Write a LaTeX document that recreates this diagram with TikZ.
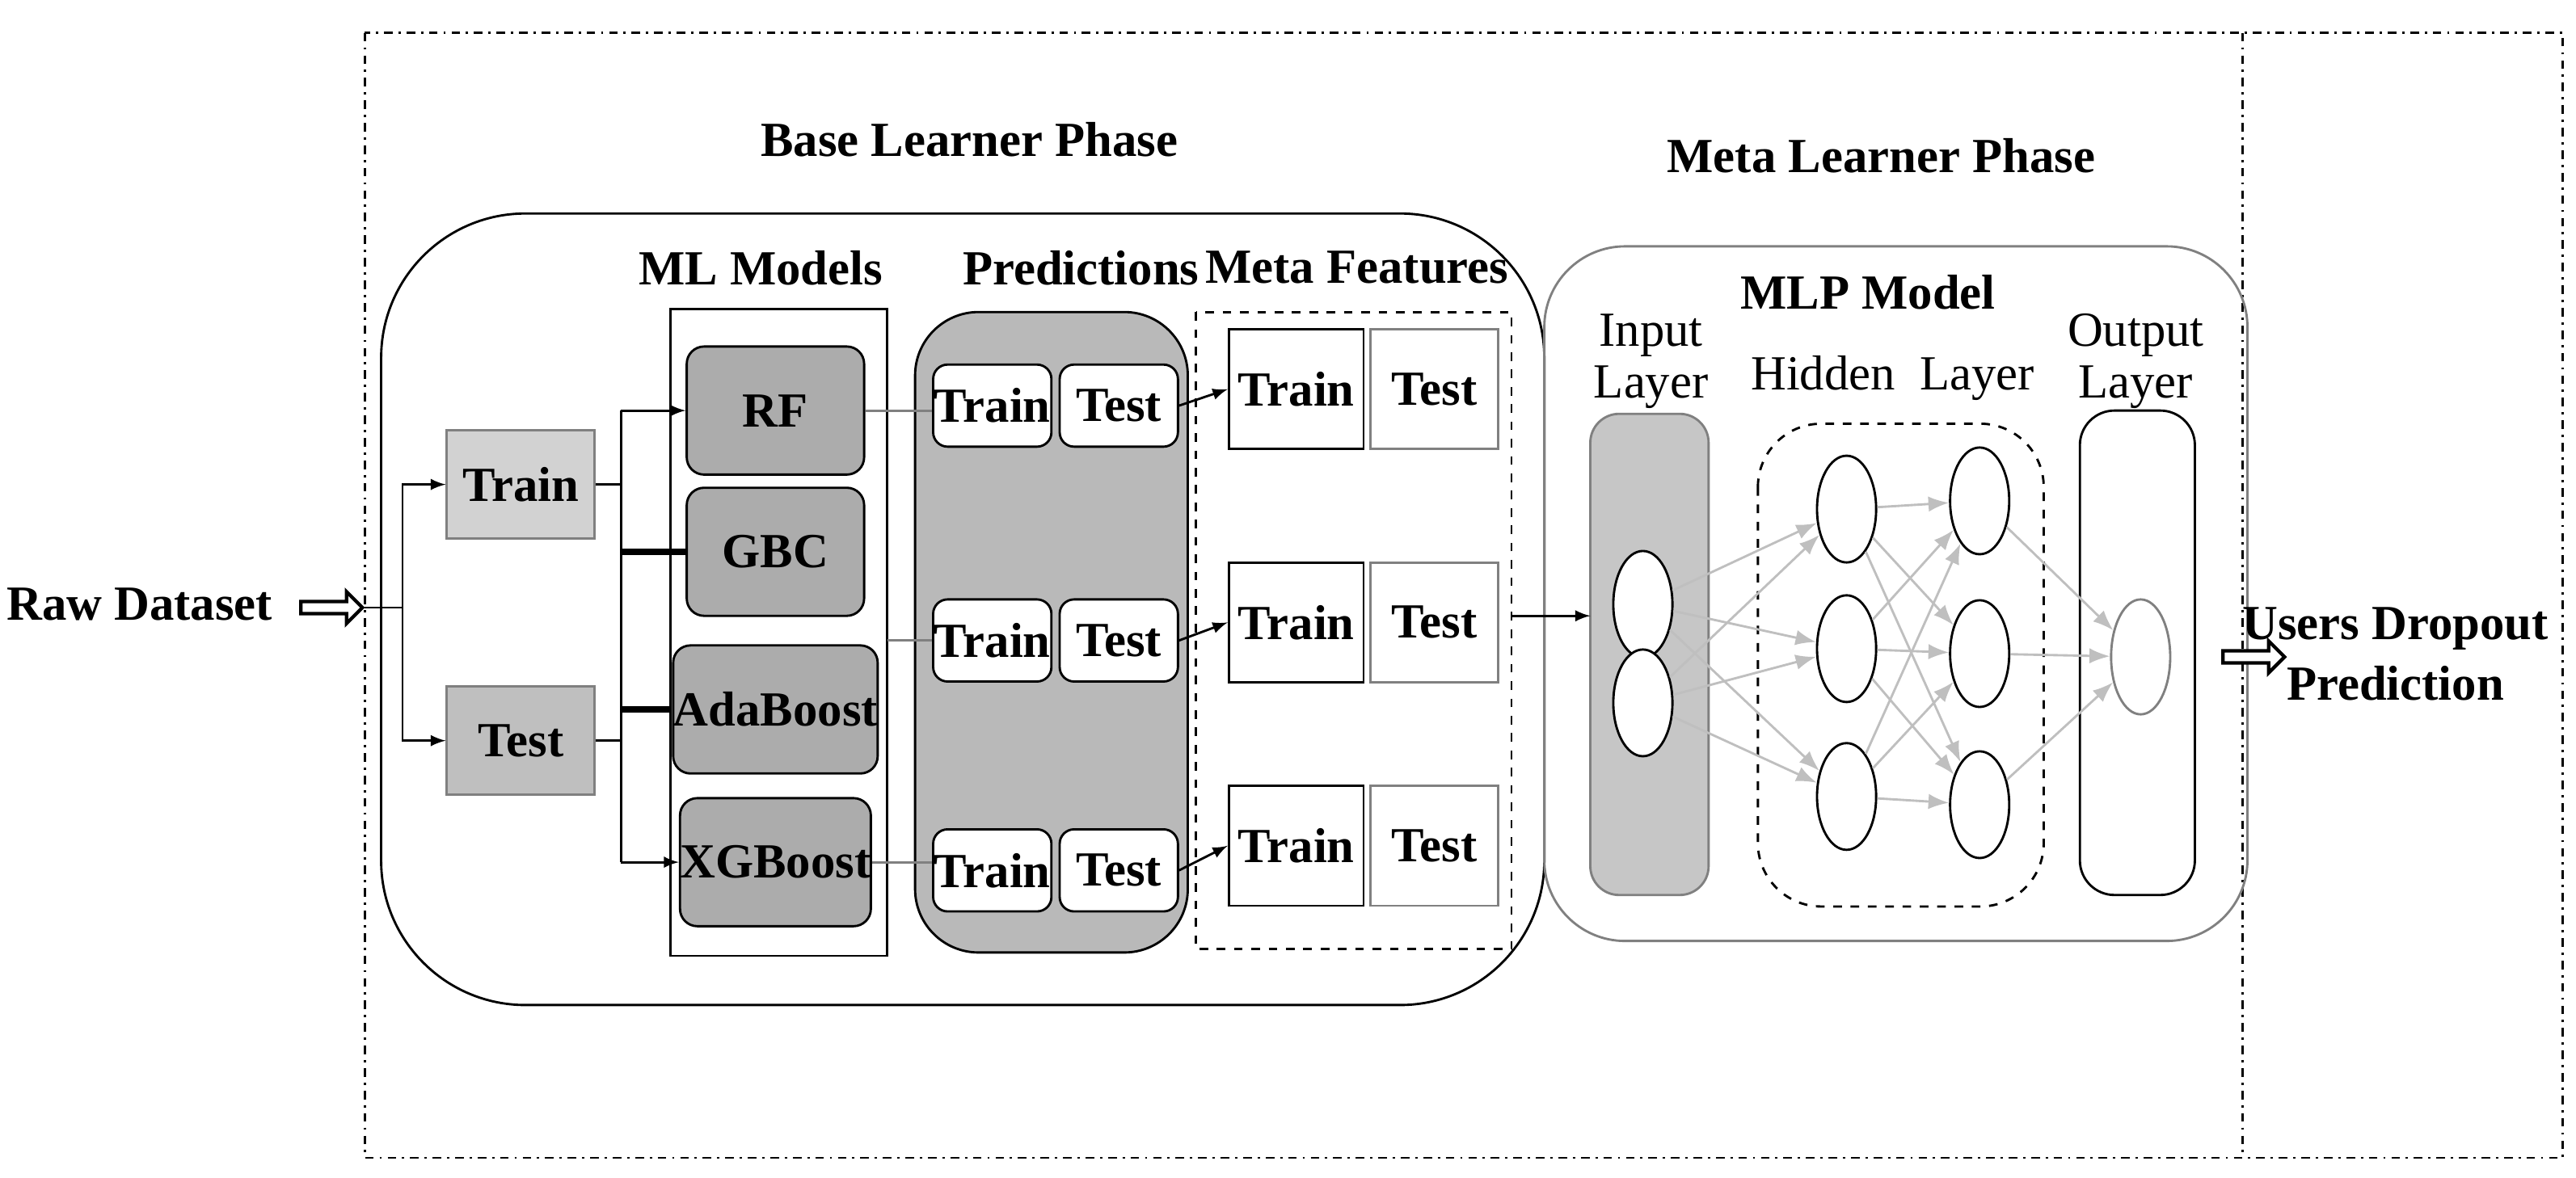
\documentclass[tikz,border=0pt]{standalone}
\usepackage{fontspec}
\setmainfont{Liberation Serif}
\usetikzlibrary{shapes.arrows,arrows.meta}
\tikzset{
	txt/.style = {font = \fontsize{17}{21}\selectfont\bfseries},
	lay/.style = {font = \fontsize{17}{21}\selectfont, align = center},
	box/.style = {draw, minimum width = #1, inner sep = 0pt},
	fat/.style = {single arrow, draw, very thick, minimum height = 0.75cm, single arrow head extend = 0.12cm, inner sep = 1.5pt, fill = white},
	neuron/.style = {ellipse, draw, fill = white, minimum width = 0.72cm, minimum height = 1.3cm, inner sep = 0pt},
	link/.style = {-{Latex[length = 2.5mm]}, gray!50, thick}
}
\usetikzlibrary{shapes.geometric}
\begin{document}
\begin{tikzpicture}[x = 0.02cm, y = -0.02cm, > = latex, line width = 0.8pt]

	\useasboundingbox (0,0) rectangle (1568,717);

	% Outer frame

	\draw [dash dot] (222,20) rectangle (1560,705);
	\draw [dash dot] (1365,20) -- (1365,705);

	% Phases

	\draw [rounded corners = 50pt] (232,130) rectangle (940,612);
	\node [txt] (base) at (590,85) {Base Learner Phase};
	\draw [rounded corners = 28pt, gray] (940,150) rectangle (1368,573);
	\node [txt] (meta) at (1145,95) {Meta Learner Phase};

	% Raw data split

	\node [txt] (raw) at (85,368) {Raw Dataset};
	\node [fat] (rawarr) at (200,370) {};
	\coordinate (split) at (245,370);
	\node [box = 1.8cm, minimum height = 1.32cm, fill = gray!35, draw = gray, txt] (train) at (317,295) {Train};
	\node [box = 1.8cm, minimum height = 1.32cm, fill = gray!50, draw = gray, txt] (test) at (317,451) {Test};
	\draw (rawarr.east) -- (split);
	\draw [->] (split) |- (train.west);
	\draw [->] (split) |- (test.west);

	% ML models

	\node [txt] (mltitle) at (463,163) {ML Models};
	\draw (408,188) rectangle (540,582);
	\foreach \m/\name/\y in {RF/rf/250, GBC/gbc/336, AdaBoost/ada/432, XGBoost/xgb/525}
		\node [box = 2.16cm, minimum height = 1.56cm, rounded corners = 6pt, fill = gray!65, txt] (\name) at (472,\y) {\m};
	\coordinate (trunk) at (378,295);
	\draw (train.east) -- (trunk);
	\draw [->] (378,250) |- (rf.west);
	\draw (378,250) -- (378,525);
	\draw [->] (378,525) -- (xgb.west);
	\draw (test.east) -- (378,451);
	\draw [line width = 2pt] (378,336) -- (gbc.west);
	\draw [line width = 2pt] (378,432) -- (ada.west);

	% Predictions

	\node [txt] (predtitle) at (658,163) {Predictions};
	\draw [rounded corners = 22pt, fill = gray!55] (557,190) rectangle (723,580);
	\foreach \r/\y in {1/247, 2/390, 3/530} {
		\node [box = 1.44cm, minimum height = 1cm, rounded corners = 5pt, fill = white, txt] (ptrain\r) at (604,\y) {Train};
		\node [box = 1.44cm, minimum height = 1cm, rounded corners = 5pt, fill = white, txt] (ptest\r) at (681,\y) {Test};
	}
	\draw [gray, thick] (rf.east) -- (rf.east -| ptrain1.west);
	\draw [gray, thick] (540,390) -- (ptrain2.west);
	\draw [gray, thick] (xgb.east) -- (xgb.east -| ptrain3.west);

	% Meta features

	\node [txt] (mftitle) at (826,163) {Meta Features};
	\draw [dashed] (728,190) rectangle (920,578);
	\foreach \r/\y in {1/237, 2/379, 3/515} {
		\node [box = 1.64cm, minimum height = 1.46cm, txt] (mtrain\r) at (789,\y) {Train};
		\node [box = 1.56cm, minimum height = 1.46cm, draw = gray, txt] (mtest\r) at (873,\y) {Test};
		\draw [->] (ptest\r.east) -- (mtrain\r.west);
	}

	% MLP model

	\node [txt] (mlp) at (1137,178) {MLP Model};
	\node [lay] (inlabel) at (1005,220) {Input\\[-3pt]Layer};
	\node [lay] (hidlabel) at (1152,230) {Hidden\ \ Layer};
	\node [lay] (outlabel) at (1300,220) {Output\\[-3pt]Layer};
	\draw [rounded corners = 10pt, fill = gray!45, draw = gray] (968,252) rectangle (1040,545);
	\draw [dashed, rounded corners = 22pt] (1070,258) rectangle (1244,552);
	\draw [rounded corners = 12pt] (1266,250) rectangle (1336,545);
	\draw [->, thick] (920,375) -- (968,375);

	\node [neuron] (i1) at (1000,368) {};
	\node [neuron] (i2) at (1000,428) {};
	\foreach \k/\y in {1/310, 2/395, 3/485}
		\node [neuron] (h\k) at (1124,\y) {};
	\foreach \k/\y in {1/305, 2/398, 3/490}
		\node [neuron] (g\k) at (1205,\y) {};
	\node [neuron, draw = gray, minimum height = 1.4cm] (o) at (1303,400) {};

	\foreach \a in {i1, i2}
		\foreach \b in {h1, h2, h3}
			\draw [link] (\a) -- (\b);
	\foreach \a in {h1, h2, h3}
		\foreach \b in {g1, g2, g3}
			\draw [link] (\a) -- (\b);
	\foreach \a in {g1, g2, g3}
		\draw [link] (\a) -- (o);

	% Output

	\node [fat] (outarr) at (1370,400) {};
	\node [txt, align = center] (result) at (1458,398) {Users Dropout\\Prediction};

\end{tikzpicture}
\end{document}
